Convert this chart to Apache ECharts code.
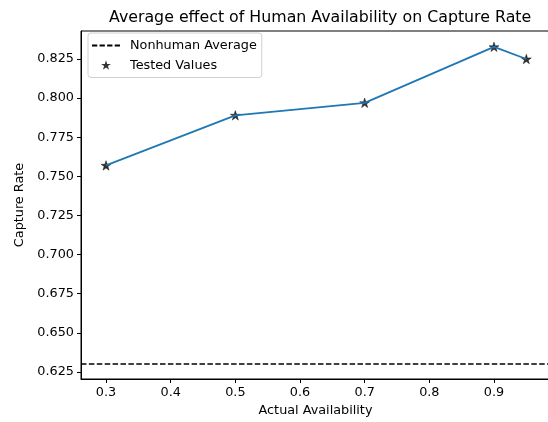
<!DOCTYPE html>
<html>
<head>
<meta charset="utf-8">
<script src="https://cdn.jsdelivr.net/npm/echarts@6/dist/echarts.min.js"></script>
<style>
html,body{margin:0;padding:0;background:#fff;}
#chart{width:548px;height:422px;}
</style>
</head>
<body>
<div id="chart"></div>
<script>
// ---- data ----
const availability = [0.3, 0.5, 0.7, 0.9, 0.95];
const captureRate = [0.757, 0.789, 0.797, 0.8328, 0.825];
const nonhumanAverage = 0.631;
const xTicks = [0.3, 0.4, 0.5, 0.6, 0.7, 0.8, 0.9];
const yTicks = [0.625, 0.65, 0.675, 0.7, 0.725, 0.75, 0.775, 0.8, 0.825];
const xRange = [0.2613, 0.9866];
const yRange = [0.6205, 0.8429];

const FONT = 'DejaVu Sans';
const STAR = 'path://M0,-1L0.2245,-0.309L0.951,-0.309L0.363,0.118L0.588,0.809L0,0.382L-0.588,0.809L-0.363,0.118L-0.951,-0.309L-0.2245,-0.309Z';
const STAR_SMALL = STAR + 'M-1.35,-1.35L-1.35,-1.35M1.35,1.35L1.35,1.35';

const chart = echarts.init(document.getElementById('chart'), null, {renderer: 'canvas'});
chart.setOption({
  animation: false,
  backgroundColor: '#fff',
  title: {
    text: 'Average effect of Human Availability on Capture Rate',
    left: 104, top: 5,
    textStyle: {fontFamily: FONT, fontSize: 15.8, fontWeight: 'normal', color: '#000'}
  },
  grid: {
    left: 81, top: 31, width: 469, bottom: 43,
    containLabel: false, outerBoundsMode: 'none',
    show: true, borderColor: '#000', borderWidth: 1, backgroundColor: 'transparent'
  },
  legend: {
    orient: 'vertical',
    left: 88, top: 33,
    padding: [6, 5, 5, 4],
    itemGap: 6.5,
    itemWidth: 28, itemHeight: 14,
    backgroundColor: 'rgba(255,255,255,0.8)',
    borderColor: '#d0d0d0', borderWidth: 1, borderRadius: 3,
    textStyle: {fontFamily: FONT, fontSize: 12.8, color: '#000', padding: [0, 0, 0, 5]},
    data: [
      {name: 'Nonhuman Average', icon: 'path://M0,0L3.7,0L3.7,1.5L0,1.5ZM5.3,0L9,0L9,1.5L5.3,1.5ZM10.6,0L14.3,0L14.3,1.5L10.6,1.5ZM15.9,0L19.6,0L19.6,1.5L15.9,1.5Z', itemStyle: {color: '#000'}},
      {name: 'Tested Values', icon: STAR_SMALL, itemStyle: {color: '#000', borderWidth: 0}}
    ]
  },
  xAxis: {
    type: 'value', min: xRange[0], max: xRange[1],
    name: 'Actual Availability', nameLocation: 'middle', nameGap: 23,
    nameTextStyle: {fontFamily: FONT, fontSize: 12.8, color: '#000'},
    axisLine: {show: true, onZero: false, lineStyle: {color: '#000', width: 1}},
    axisTick: {show: true, length: 4, lineStyle: {color: '#000', width: 1}, customValues: xTicks},
    axisLabel: {fontFamily: FONT, fontSize: 12.8, color: '#000', margin: 7, customValues: xTicks,
      formatter: v => v.toFixed(1)},
    splitLine: {show: false}
  },
  yAxis: {
    type: 'value', min: yRange[0], max: yRange[1],
    name: 'Capture Rate', nameLocation: 'middle', nameGap: 53, nameRotate: 90,
    nameTextStyle: {fontFamily: FONT, fontSize: 12.8, color: '#000'},
    axisLine: {show: true, onZero: false, lineStyle: {color: '#000', width: 1}},
    axisTick: {show: true, length: 4, lineStyle: {color: '#000', width: 1}, customValues: yTicks},
    axisLabel: {fontFamily: FONT, fontSize: 12.8, color: '#000', margin: 7, customValues: yTicks,
      formatter: v => v.toFixed(3)},
    splitLine: {show: false}
  },
  series: [
    {
      name: 'Nonhuman Average', type: 'line', data: [], symbol: 'none',
      lineStyle: {color: '#000', type: [5.5, 2.4], width: 1.5},
      itemStyle: {color: '#000'},
      markLine: {
        silent: true, symbol: ['none', 'none'], label: {show: false},
        lineStyle: {color: '#000', type: [5.5, 2.4], width: 1.5},
        data: [{yAxis: nonhumanAverage}]
      }
    },
    {
      name: 'Tested Values', type: 'scatter',
      data: availability.map((x, i) => [x, captureRate[i]]),
      symbol: STAR, symbolSize: 10, symbolKeepAspect: true,
      itemStyle: {color: '#000', borderColor: '#000', borderWidth: 0.5},
      z: 2
    },
    {
      name: 'line', type: 'line',
      data: availability.map((x, i) => [x, captureRate[i]]),
      symbol: 'none', lineStyle: {color: '#1f77b4', width: 1.8}, z: 3
    }
  ]
});
</script>
</body>
</html>
